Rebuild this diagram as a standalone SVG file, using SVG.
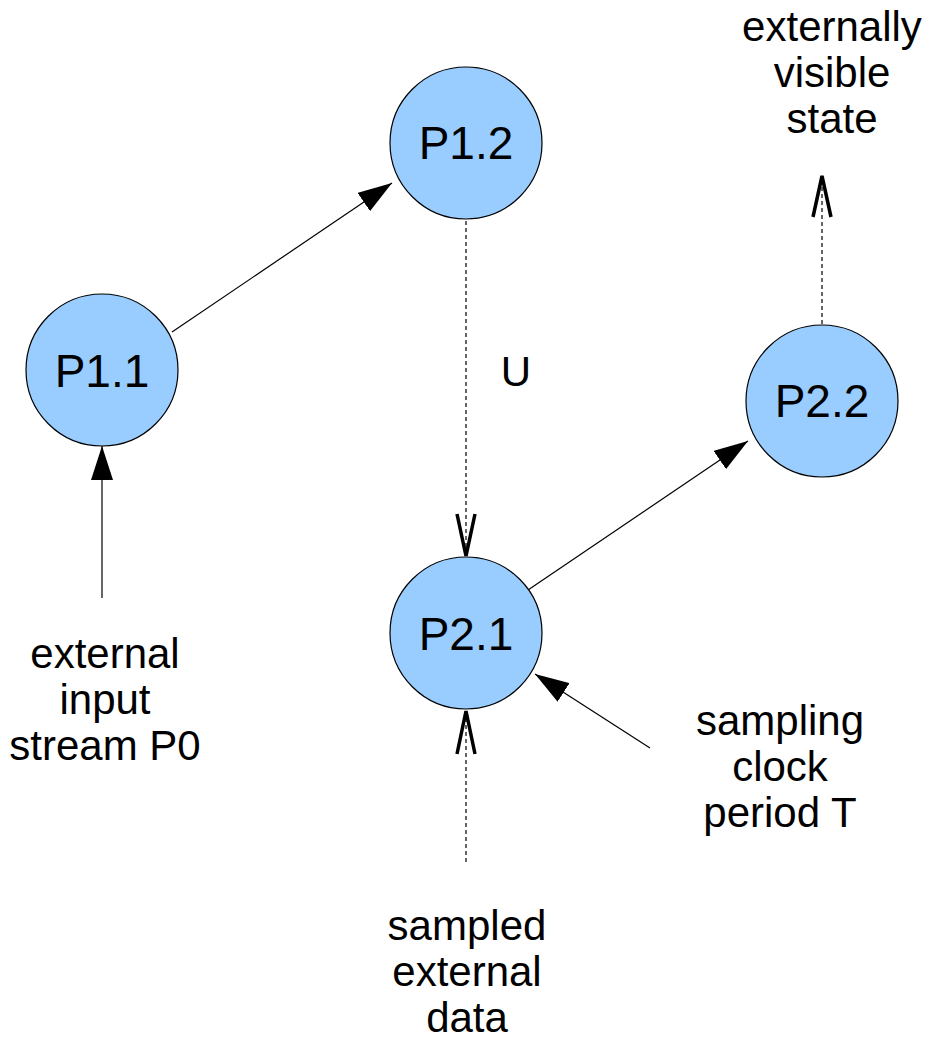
<svg xmlns="http://www.w3.org/2000/svg" width="929" height="1040" viewBox="0 0 929 1040">
<style>
.node{fill:#99ccff;stroke:#000;stroke-width:1.2}
.nt{font-family:"Liberation Sans",Arial,sans-serif;font-size:46px;text-anchor:middle;fill:#000}
.lb{font-family:"Liberation Sans",Arial,sans-serif;font-size:42px;text-anchor:middle;fill:#000}
.solid{stroke:#000;stroke-width:1.2;fill:none}
.dash{stroke:#000;stroke-width:1.2;fill:none;stroke-dasharray:4,3}
.open{stroke:#000;stroke-width:3.5;fill:none;stroke-linejoin:miter}
</style>
<defs>
<marker id="fa" markerWidth="34" markerHeight="22" refX="34" refY="11" orient="auto" markerUnits="userSpaceOnUse">
<path d="M0,0 L34,11 L0,22 Z" fill="#000"/>
</marker>
</defs>
<rect width="929" height="1040" fill="#fff"/>
<g id="connectors">
<line class="solid" x1="172" y1="332" x2="392" y2="183" marker-end="url(#fa)"/>
<line class="solid" x1="102" y1="598" x2="102" y2="446" marker-end="url(#fa)"/>
<line class="solid" x1="528" y1="590" x2="748" y2="441" marker-end="url(#fa)"/>
<line class="solid" x1="650" y1="748" x2="535" y2="674" marker-end="url(#fa)"/>
<line class="dash" x1="466" y1="221" x2="466" y2="555"/>
<polyline class="open" points="457,514 466,556 475,514"/>
<line class="dash" x1="822" y1="324" x2="822" y2="178"/>
<polyline class="open" points="813,217 822,176 831,217"/>
<line class="dash" x1="466" y1="862" x2="466" y2="712"/>
<polyline class="open" points="457,754 466,711 475,754"/>
</g>
<g id="P1.1"><circle class="node" cx="102" cy="370" r="76"/><text class="nt" x="102" y="387">P1.1</text></g>
<g id="P1.2"><circle class="node" cx="466" cy="143" r="76"/><text class="nt" x="466" y="159">P1.2</text></g>
<g id="P2.1"><circle class="node" cx="466" cy="633" r="76"/><text class="nt" x="466" y="650">P2.1</text></g>
<g id="P2.2"><circle class="node" cx="822" cy="401" r="76"/><text class="nt" x="822" y="417">P2.2</text></g>
<g id="labels">
<text class="lb" x="516" y="386">U</text>
<text class="lb" x="832" y="41">externally</text>
<text class="lb" x="832" y="87">visible</text>
<text class="lb" x="832" y="133">state</text>
<text class="lb" x="105" y="668">external</text>
<text class="lb" x="105" y="714">input</text>
<text class="lb" x="105" y="760">stream P0</text>
<text class="lb" x="780" y="735">sampling</text>
<text class="lb" x="780" y="781">clock</text>
<text class="lb" x="780" y="827">period T</text>
<text class="lb" x="467" y="940">sampled</text>
<text class="lb" x="467" y="986">external</text>
<text class="lb" x="467" y="1032">data</text>
</g>
</svg>
